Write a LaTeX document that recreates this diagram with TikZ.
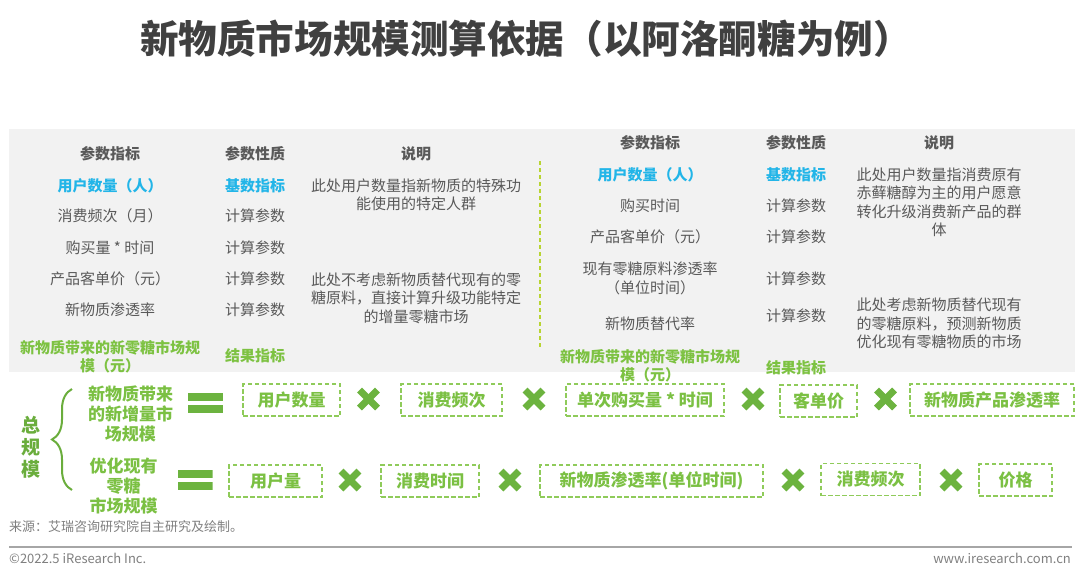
\documentclass[tikz,border=0pt]{standalone}
\usepackage{fontspec}
\setmainfont{Noto Sans CJK SC}
\usepackage{tikz}
\usetikzlibrary{decorations.pathreplacing}
\definecolor{titlegray}{HTML}{404040}
\definecolor{textgray}{HTML}{595959}
\definecolor{notegray}{HTML}{7F7F7F}
\definecolor{base}{HTML}{22B5E8}
\definecolor{result}{HTML}{7DC242}
\definecolor{panel}{HTML}{F2F2F2}
\definecolor{sep}{HTML}{B8D432}
\definecolor{sign}{HTML}{6CB33F}
\definecolor{boxline}{HTML}{8FCB5A}
\definecolor{boxtext}{HTML}{7BC043}
\definecolor{total}{HTML}{6AAD3C}
\definecolor{rulegray}{HTML}{A6A6A6}

\begin{document}
\begin{tikzpicture}[x=1pt, y=-1pt,
  every node/.style={inner sep=0pt, align=center, text=textgray, font=\fontsize{15}{18.5}\selectfont},
  head/.style={font=\fontsize{15}{18.5}\selectfont\bfseries},
  basecell/.style={text=base, font=\fontsize{15}{18.5}\selectfont\bfseries},
  resultcell/.style={text=result, font=\fontsize{15}{18}\selectfont\bfseries},
  sumlabel/.style={text=boxtext, font=\fontsize{17}{20}\selectfont\bfseries},
  factor/.style={draw=boxline, dash pattern=on 4.5pt off 2.5pt, line width=1.6pt, text=boxtext, font=\fontsize{17}{20}\selectfont\bfseries, minimum height=32pt},
  times/.style={minimum size=24pt, path picture={
    \draw[sign, line width=7pt] ([shift={(-9pt,-9pt)}]path picture bounding box.center) -- ([shift={(9pt,9pt)}]path picture bounding box.center);
    \draw[sign, line width=7pt] ([shift={(-9pt,9pt)}]path picture bounding box.center) -- ([shift={(9pt,-9pt)}]path picture bounding box.center);}},
  eqsign/.style={minimum width=35pt, minimum height=20pt, path picture={
    \fill[sign] (path picture bounding box.north west) rectangle ([yshift=-8pt]path picture bounding box.north east);
    \fill[sign] (path picture bounding box.south west) rectangle ([yshift=8pt]path picture bounding box.south east);}},
  footer/.style={text=notegray, font=\fontsize{13}{15}\selectfont}
]
\useasboundingbox (0,0) rectangle (1080,574);

% title
\node[text=titlegray, font=\fontsize{38.6}{44}\selectfont\bfseries] (title) at (526,39) {新物质市场规模测算依据（以阿洛酮糖为例）};

% parameter panel
\fill[panel] (9,129) rectangle (1075,372);
\coordinate (sep top) at (540,161);
\coordinate (sep bot) at (540,348);
\draw[sep, line width=1.5pt, dash pattern=on 4pt off 3pt] (sep top) -- (sep bot);

% left table
\node[head] (lh1) at (110,154) {参数指标};
\node[head] (lh2) at (255,154) {参数性质};
\node[head] (lh3) at (416,154) {说明};
\node[basecell] (la1) at (110,185.5) {用户数量（人）};
\node[basecell] (lb1) at (255,185.5) {基数指标};
\node (la2) at (110,216) {消费频次（月）};
\node (lb2) at (255,216) {计算参数};
\node (la3) at (110,248) {购买量 * 时间};
\node (lb3) at (255,248) {计算参数};
\node (la4) at (110,279) {产品客单价（元）};
\node (lb4) at (255,279) {计算参数};
\node (la5) at (110,310) {新物质渗透率};
\node (lb5) at (255,310) {计算参数};
\node[resultcell] (la6) at (110,357) {新物质带来的新零糖市场规\\模（元）};
\node[resultcell] (lb6) at (255,356) {结果指标};
\node (lc1) at (416,195) {此处用户数量指新物质的特殊功\\能使用的特定人群};
\node (lc2) at (416,298) {此处不考虑新物质替代现有的零\\糖原料，直接计算升级功能特定\\的增量零糖市场};

% right table
\node[head] (rh1) at (650,143) {参数指标};
\node[head] (rh2) at (796,143) {参数性质};
\node[head] (rh3) at (939,143) {说明};
\node[basecell] (ra1) at (650,174.5) {用户数量（人）};
\node[basecell] (rb1) at (796,174.5) {基数指标};
\node (ra2) at (650,206) {购买时间};
\node (rb2) at (796,206) {计算参数};
\node (ra3) at (650,237) {产品客单价（元）};
\node (rb3) at (796,237) {计算参数};
\node (ra4) at (650,278.5) {现有零糖原料渗透率\\（单位时间）};
\node (rb4) at (796,279) {计算参数};
\node (ra5) at (650,324) {新物质替代率};
\node (rb5) at (796,316) {计算参数};
\node[resultcell] (ra6) at (650,366) {新物质带来的新零糖市场规\\模（元）};
\node[resultcell] (rb6) at (796,367.5) {结果指标};
\node (rc1) at (939,202) {此处用户数量指消费原有\\赤藓糖醇为主的用户愿意\\转化升级消费新产品的群\\体};
\node (rc2) at (939,323.5) {此处考虑新物质替代现有\\的零糖原料，预测新物质\\优化现有零糖物质的市场};

% total market size
\node[text=total, font=\fontsize{19}{22}\selectfont\bfseries] (total) at (31,447) {总\\规\\模};
\coordinate (brace top) at (72,389);
\coordinate (brace bot) at (72,490);
\draw[total, line width=2pt, decorate, decoration={brace, amplitude=20pt}] (brace bot) -- (brace top);

% row 1: new incremental market
\node[sumlabel] (sum1) at (130.5,414) {新物质带来\\的新增量市\\场规模};
\node[eqsign] (eq1) at (205.5,403) {};
\node[factor, minimum width=97pt] (f1) at (291.5,400) {用户数量};
\node[times] (t1) at (368.5,399) {};
\node[factor, minimum width=101pt] (f2) at (451.5,400) {消费频次};
\node[times] (t2) at (534,399) {};
\node[factor, minimum width=158pt] (f3) at (645,400) {单次购买量 * 时间};
\node[times] (t3) at (753,399) {};
\node[factor, minimum width=77pt] (f4) at (818.5,401) {客单价};
\node[times] (t4) at (885.5,399) {};
\node[factor, minimum width=164pt] (f5) at (992,400) {新物质产品渗透率};

% row 2: optimised existing market
\node[sumlabel] (sum2) at (123.5,486) {优化现有\\零糖\\市场规模};
\node[eqsign] (eq2) at (195,479.5) {};
\node[factor, minimum width=93pt] (g1) at (275.5,481) {用户量};
\node[times] (u1) at (350,480) {};
\node[factor, minimum width=98pt] (g2) at (430,481) {消费时间};
\node[times] (u2) at (510,480) {};
\node[factor, minimum width=223pt] (g3) at (651.5,481) {新物质渗透率(单位时间)};
\node[times] (u3) at (793,480) {};
\node[factor, minimum width=99pt] (g4) at (870.5,479.5) {消费频次};
\node[times] (u4) at (951,480) {};
\node[factor, minimum width=73pt] (g5) at (1015.5,480) {价格};

% footer
\node[footer, anchor=west] (source) at (9,527) {来源：艾瑞咨询研究院自主研究及绘制。};
\coordinate (rule left) at (9,547);
\coordinate (rule right) at (1072,547);
\draw[rulegray, line width=1.5pt] (rule left) -- (rule right);
\node[footer, anchor=west] (copy) at (9,558) {©2022.5 iResearch Inc.};
\node[footer, anchor=east] (web) at (1071,558) {www.iresearch.com.cn};
\end{tikzpicture}
\end{document}
